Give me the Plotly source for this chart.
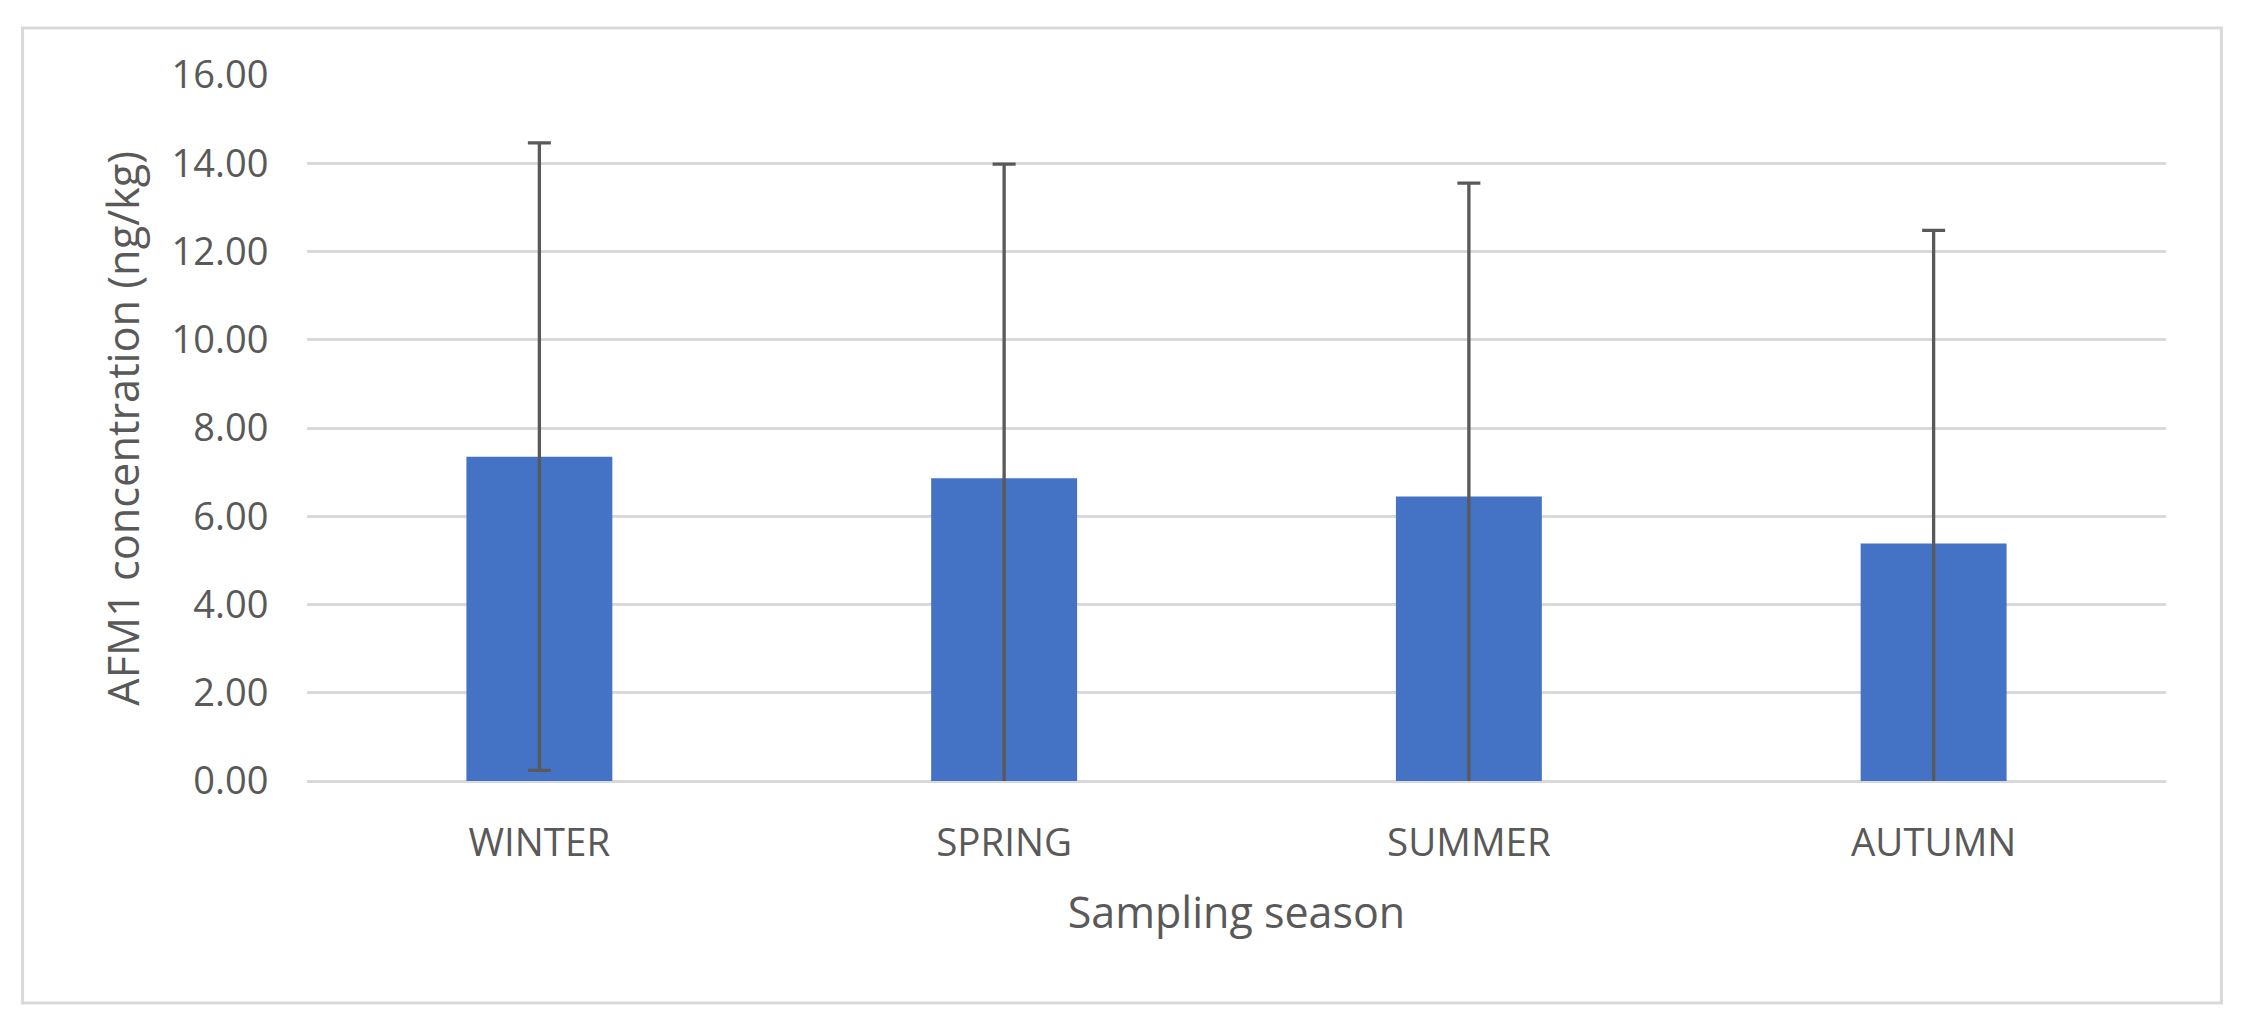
import plotly.graph_objects as go

# AFM1 concentration by sampling season (mean +/- SD)

seasons = ['WINTER', 'SPRING', 'SUMMER', 'AUTUMN']
mean_afm1 = [7.35, 6.86, 6.45, 5.38]
sd_afm1 = [7.11, 7.12, 7.10, 7.10]
y_ticks = [0, 2, 4, 6, 8, 10, 12, 14, 16]

GREY_TEXT = '#595959'
GRID = '#d9d9d9'
BLUE = '#4472C4'
FONT = 'Open Sans'

fig = go.Figure()

fig.add_trace(go.Bar(
    x=seasons,
    y=mean_afm1,
    width=0.314,
    marker=dict(color=BLUE, line_width=0),
    error_y=dict(type='data', array=sd_afm1, symmetric=True,
                 color=GREY_TEXT, thickness=3.3, width=11.5),
    showlegend=False,
))

# page body has an 8px margin, so the figure is 8px smaller than the window
fig.update_layout(
    width=2235,
    height=1017,
    margin=dict(l=298.5, r=76.5, t=67, b=244, pad=0),
    paper_bgcolor='white',
    plot_bgcolor='white',
    font=dict(family=FONT, color=GREY_TEXT, size=38),
)

fig.update_xaxes(
    title=dict(text='Sampling season', font=dict(size=43, color=GREY_TEXT), standoff=31),
    ticks='outside', ticklen=28, tickcolor='rgba(0,0,0,0)',
    showline=False, showgrid=False,
    tickfont=dict(size=38.5, color=GREY_TEXT),
)

fig.update_yaxes(
    range=[0, 16],
    tickvals=y_ticks,
    tickformat='.2f',
    ticks='outside', ticklen=30, tickcolor='rgba(0,0,0,0)',
    showgrid=True, gridcolor=GRID, gridwidth=3,
    zeroline=True, zerolinecolor=GRID, zerolinewidth=3,
    showline=False,
    tickfont=dict(size=38, color=GREY_TEXT),
)

# y title as an annotation so it can sit closer to the frame, like the original
fig.add_annotation(
    text='AFM1 concentration (ng/kg)', textangle=-90,
    xref='paper', yref='paper', x=-0.0997, y=0.5,
    xanchor='center', yanchor='middle', showarrow=False,
    font=dict(size=43.3, color=GREY_TEXT),
)

# light grey frame around the whole chart area
fig.add_shape(
    type='rect', xref='paper', yref='paper',
    x0=-0.153, x1=1.0298, y0=-0.3144, y1=1.0666,
    line=dict(color=GRID, width=3), fillcolor='rgba(0,0,0,0)', layer='below',
)

fig.write_html('out.html')
